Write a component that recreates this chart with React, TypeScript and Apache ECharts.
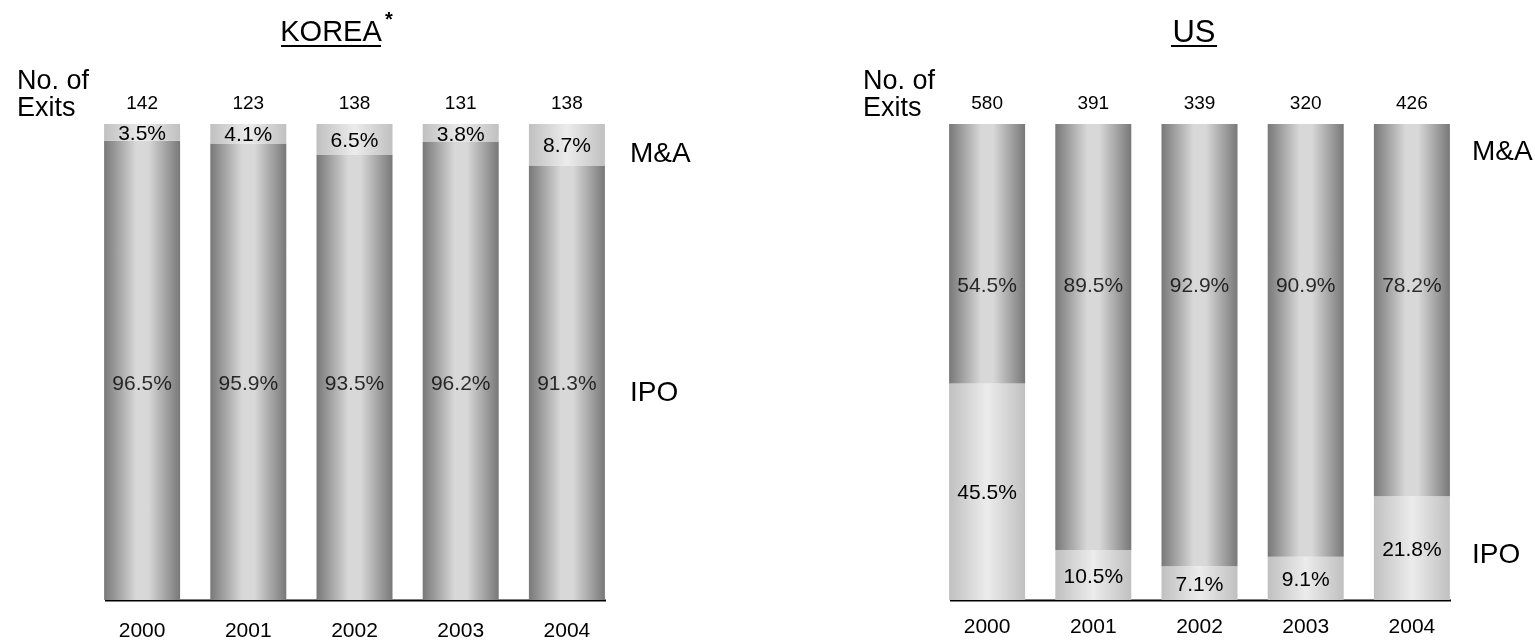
import React, { useEffect, useRef } from "react";
import * as echarts from "echarts";

const years = ["2000", "2001", "2002", "2003", "2004"];
const koreaTotals = ["142", "123", "138", "131", "138"];
const koreaIPO = [96.5, 95.9, 93.5, 96.2, 91.3];
const koreaMA = [3.5, 4.1, 6.5, 3.8, 8.7];
const usTotals = ["580", "391", "339", "320", "426"];
const usIPO = [45.5, 10.5, 7.1, 9.1, 21.8];
const usMA = [54.5, 89.5, 92.9, 90.9, 78.2];

const FONT = "Liberation Sans";

const dark = new echarts.graphic.LinearGradient(0, 0, 1, 0, [
  { offset: 0, color: "#787878" },
  { offset: 0.42, color: "#d8d8d8" },
  { offset: 0.58, color: "#d8d8d8" },
  { offset: 1, color: "#787878" },
]);
const light = new echarts.graphic.LinearGradient(0, 0, 1, 0, [
  { offset: 0, color: "#c0c0c0" },
  { offset: 0.5, color: "#ececec" },
  { offset: 1, color: "#c0c0c0" },
]);

const pct = (v: number) => v.toFixed(1) + "%";

export default function App() {
  const ref = useRef<HTMLDivElement>(null);
  useEffect(() => {
    if (!ref.current) return;
    const chart = echarts.init(ref.current, null, { renderer: "svg" });
    const catAxis = (grid: number, data: string[], pos: "top" | "bottom", margin: number, size: number) => ({
      type: "category",
      gridIndex: grid,
      position: pos,
      data,
      axisLine: { show: false },
      axisTick: { show: false },
      axisLabel: { color: "#000", fontFamily: FONT, fontSize: size, margin },
    });
    const labelStyle = { color: "#000", fontFamily: FONT, fontSize: 21 };
    const txt = (x: number, y: number, text: string, size: number, align = "left", weight = "normal") => ({
      type: "text",
      x,
      y,
      style: { text, fontFamily: FONT, fontSize: size, fontWeight: weight, fill: "#000", textAlign: align, textVerticalAlign: "middle" },
    });
    chart.setOption({
      animation: false,
      grid: [
        { left: 89, top: 124, width: 531, height: 476 },
        { left: 934, top: 124, width: 531, height: 476 },
      ],
      xAxis: [
        catAxis(0, years, "bottom", 19, 21),
        catAxis(0, koreaTotals, "top", 12, 19),
        catAxis(1, years, "bottom", 15, 21),
        catAxis(1, usTotals, "top", 12, 19),
      ],
      yAxis: [
        { type: "value", gridIndex: 0, min: 0, max: 100, show: false },
        { type: "value", gridIndex: 1, min: 0, max: 100, show: false },
      ],
      series: [
        {
          type: "bar", xAxisIndex: 0, yAxisIndex: 0, stack: "k", barWidth: 76,
          data: koreaIPO, itemStyle: { color: dark },
        },
        {
          type: "bar", xAxisIndex: 0, yAxisIndex: 0, stack: "k", barWidth: 76,
          data: koreaMA, itemStyle: { color: light },
          label: { show: true, position: "inside", formatter: (p: any) => pct(p.value), ...labelStyle },
        },
        {
          type: "scatter", xAxisIndex: 0, yAxisIndex: 0, symbolSize: 0, z: 5,
          data: koreaIPO.map((v, i) => [i, 45.6]),
          label: { show: true, position: "inside", formatter: (p: any) => pct(koreaIPO[p.dataIndex]), ...labelStyle },
        },
        {
          type: "bar", xAxisIndex: 2, yAxisIndex: 1, stack: "u", barWidth: 76,
          data: usIPO, itemStyle: { color: light },
          label: { show: true, position: "inside", formatter: (p: any) => pct(p.value), ...labelStyle },
        },
        {
          type: "bar", xAxisIndex: 2, yAxisIndex: 1, stack: "u", barWidth: 76,
          data: usMA, itemStyle: { color: dark },
        },
        {
          type: "scatter", xAxisIndex: 2, yAxisIndex: 1, symbolSize: 0, z: 5,
          data: usMA.map((v, i) => [i, 66.2]),
          label: { show: true, position: "inside", formatter: (p: any) => pct(usMA[p.dataIndex]), ...labelStyle },
        },
      ],
      graphic: [
        { type: "line", shape: { x1: 105, y1: 600.5, x2: 606, y2: 600.5 }, style: { stroke: "#000", lineWidth: 2 } },
        { type: "line", shape: { x1: 950, y1: 600.5, x2: 1451, y2: 600.5 }, style: { stroke: "#000", lineWidth: 2 } },
        txt(331, 31, "KOREA", 29, "center"),
        txt(389, 19, "*", 20, "center", "bold"),
        { type: "line", shape: { x1: 281, y1: 46, x2: 381, y2: 46 }, style: { stroke: "#000", lineWidth: 2 } },
        txt(1194, 31, "US", 31, "center"),
        { type: "line", shape: { x1: 1171, y1: 46, x2: 1217, y2: 46 }, style: { stroke: "#000", lineWidth: 2 } },
        txt(17, 80, "No. of", 27),
        txt(17, 107, "Exits", 27),
        txt(863, 80, "No. of", 27),
        txt(863, 107, "Exits", 27),
        txt(630, 152, "M&A", 28),
        txt(630, 391, "IPO", 28),
        txt(1472, 150, "M&A", 28),
        txt(1472, 553, "IPO", 28),
      ],
    });
    return () => chart.dispose();
  }, []);
  return <div ref={ref} style={{ position: "fixed", left: 0, top: 0, width: 1535, height: 640 }} />;
}
